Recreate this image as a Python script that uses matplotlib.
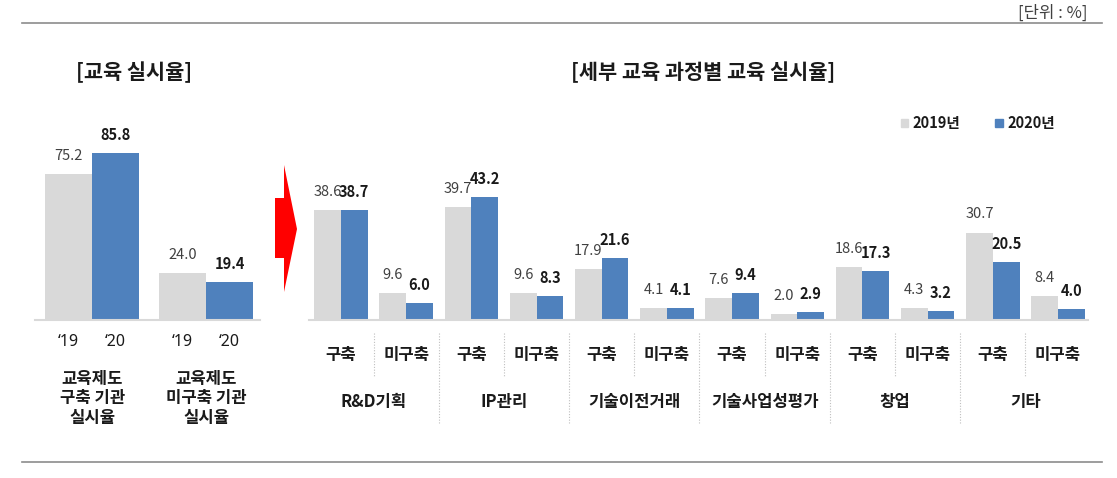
import numpy as np
import matplotlib
matplotlib.use("Agg")
import matplotlib.pyplot as plt
from matplotlib.patches import Polygon, Patch
from matplotlib.lines import Line2D
from matplotlib.transforms import blended_transform_factory

plt.rcParams['font.family'] = ['Noto Sans CJK KR', 'DejaVu Sans']

# data
left_years = ['\u201819', '\u201820']
left_groups = ['교육제도\n구축 기관\n실시율', '교육제도\n미구축 기관\n실시율']
left_2019 = [75.2, 24.0]
left_2020 = [85.8, 19.4]

sub_labels = ['구축', '미구축'] * 6
categories = ['R&D기획', 'IP관리', '기술이전거래', '기술사업성평가', '창업', '기타']
right_2019 = [38.6, 9.6, 39.7, 9.6, 17.9, 4.1, 7.6, 2.0, 18.6, 4.3, 30.7, 8.4]
right_2020 = [38.7, 6.0, 43.2, 8.3, 21.6, 4.1, 9.4, 2.9, 17.3, 3.2, 20.5, 4.0]

GRAY = '#D9D9D9'
BLUE = '#4F81BD'
W, H = 1117, 478

fig = plt.figure(figsize=(W / 100, H / 100), dpi=100)


def fx(px):
    return px / W


def fy(py):
    return 1 - py / H


def style(ax):
    for s in ['top', 'right', 'left']:
        ax.spines[s].set_visible(False)
    ax.spines['bottom'].set_color(GRAY)
    ax.spines['bottom'].set_linewidth(1.5)
    ax.set_xticks([])
    ax.set_yticks([])
    ax.patch.set_alpha(0)


def labels(ax, xs, vals, bold):
    for x, v in zip(xs, vals):
        ax.annotate(f'{v:.1f}', (x, v), xytext=(0, 13), textcoords='offset points',
                    ha='center', va='center', fontsize=10.5,
                    fontweight='bold' if bold else 'normal',
                    color='#1A1A1A' if bold else '#404040')


# rules
fig.add_artist(Line2D([fx(22), fx(1102)], [fy(23), fy(23)], color='#8C8C8C', lw=1.2))
fig.add_artist(Line2D([fx(22), fx(1102)], [fy(462), fy(462)], color='#8C8C8C', lw=1.2))
fig.text(fx(1087), fy(13), '[단위 : %]', ha='right', va='center', fontsize=12, color='#404040')

fig.text(fx(134), fy(72), '[교육 실시율]', ha='center', va='center', fontsize=15, fontweight='bold', color='#1A1A1A')
fig.text(fx(703), fy(72), '[세부 교육 과정별 교육 실시율]', ha='center', va='center', fontsize=15, fontweight='bold', color='#1A1A1A')

# left chart
axl = fig.add_axes([fx(35), fy(320), fx(260) - fx(35), fy(130) - fy(320)])
style(axl)
gx = np.arange(len(left_groups)) * 2.42
axl.bar(gx - 0.5, left_2019, width=1, color=GRAY)
axl.bar(gx + 0.5, left_2020, width=1, color=BLUE)
axl.set_xlim(-1.22, 3.57)
axl.set_ylim(0, 190 / 1.946)
labels(axl, gx - 0.5, left_2019, False)
labels(axl, gx + 0.5, left_2020, True)
trl = blended_transform_factory(axl.transData, fig.transFigure)
for x in gx:
    for k, yr in enumerate(left_years):
        axl.text(x - 0.5 + k, fy(342), yr, transform=trl, ha='center', va='center',
                 fontsize=11.5, fontweight='bold', family=['Noto Sans', 'DejaVu Sans'], color='#1A1A1A')
for x, g in zip(gx, left_groups):
    for k, line in enumerate(g.split('\n')):
        axl.text(x, fy(379 + 19.5 * k), line, transform=trl, ha='center', va='center',
                 fontsize=12, fontweight='bold', color='#1A1A1A')

# right chart
axr = fig.add_axes([fx(309), fy(320), fx(1088) - fx(309), fy(130) - fy(320)])
style(axr)
x = np.arange(len(sub_labels))
bw = 0.41
axr.bar(x - bw / 2, right_2019, width=bw, color=GRAY, label='2019년')
axr.bar(x + bw / 2, right_2020, width=bw, color=BLUE, label='2020년')
axr.set_xlim(-0.49, 11.46)
axr.set_ylim(0, 190 / 2.85)
labels(axr, x - bw / 2, right_2019, False)
labels(axr, x + bw / 2, right_2020, True)
trr = blended_transform_factory(axr.transData, fig.transFigure)
for i, s in enumerate(sub_labels):
    axr.text(i, fy(355), s, transform=trr, ha='center', va='center',
             fontsize=12, fontweight='bold', color='#1A1A1A')
for j, c in enumerate(categories):
    axr.text(2 * j + 0.5, fy(402), c, transform=trr, ha='center', va='center',
             fontsize=12, fontweight='bold', color='#1A1A1A')
for i in range(len(sub_labels) - 1):
    bottom = 377 if i % 2 == 0 else 423
    axr.add_artist(Line2D([i + 0.5, i + 0.5], [fy(333), fy(bottom)], transform=trr,
                          color='#BFBFBF', lw=0.8, ls=(0, (1, 1.5)), clip_on=False))

leg = axr.legend(handles=[Patch(color=GRAY, label='2019년'), Patch(color=BLUE, label='2020년')],
                 loc='center left', bbox_to_anchor=(fx(901), fy(123)), bbox_transform=fig.transFigure,
                 frameon=False, ncol=2, fontsize=10.5, handlelength=0.5, handleheight=0.5,
                 handletextpad=0.3, columnspacing=2.4, borderpad=0, borderaxespad=0)
for t in leg.get_texts():
    t.set_fontweight('bold')
    t.set_color('#1A1A1A')

# red arrow between the charts
arrow = [(275, 198), (284, 198), (284, 165), (297, 229), (284, 292), (284, 258), (275, 258)]
fig.add_artist(Polygon([(fx(a), fy(b)) for a, b in arrow], closed=True, color='#FF0000', lw=0))

fig.savefig('out.png', dpi=100)
